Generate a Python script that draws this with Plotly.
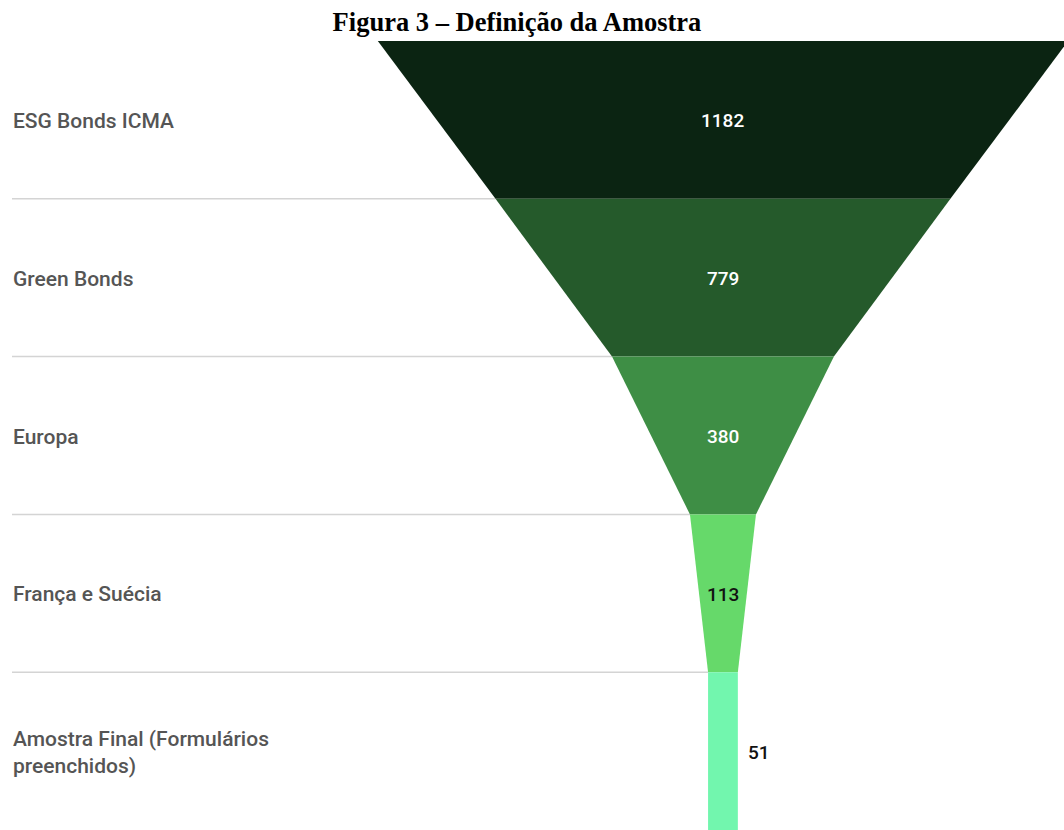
import plotly.graph_objects as go

stages = ["ESG Bonds ICMA", "Green Bonds", "Europa", "França e Suécia",
          "Amostra Final (Formulários<br>preenchidos)"]
values = [1182, 779, 380, 113, 51]
colors = ["#0b2412", "#255a2b", "#3e8e45", "#66d96a", "#72f6ae"]
text_colors = ["#ffffff", "#ffffff", "#ffffff", "#111111", "#111111"]
title = "<b>Figura 3 – Definição da Amostra</b>"

W, H = 1064, 830
X_RANGE = [-1238, 584]
Y_RANGE = [-5, 0.26]

fig = go.Figure()
n = len(values)
for i, v in enumerate(values):
    nxt = values[i + 1] if i + 1 < n else v
    top, bot = -i, -(i + 1)
    xs = [-v / 2, v / 2, nxt / 2, -nxt / 2, -v / 2]
    ys = [top, top, bot, bot, top]
    fig.add_trace(go.Scatter(x=xs, y=ys, fill="toself", fillcolor=colors[i],
                             mode="lines", line=dict(width=0, color=colors[i]),
                             hoverinfo="skip", showlegend=False))

# separator lines
px_per_unit = W / (X_RANGE[1] - X_RANGE[0])
x_left = X_RANGE[0] + 12 / px_per_unit
for i in range(1, n):
    fig.add_shape(type="line", xref="x", yref="y", x0=x_left, x1=-values[i] / 2,
                  y0=-i, y1=-i, line=dict(color="#d4d4d4", width=1.5), layer="below")

# labels
for i, s in enumerate(stages):
    fig.add_annotation(xref="paper", yref="y", x=11 / W, y=-(i + 0.5), text=s,
                       showarrow=False, xanchor="left", yanchor="middle", align="left",
                       yshift=-1,
                       font=dict(family="Roboto", size=21, weight=500, color="#555555"))
    if i < n - 1:
        fig.add_annotation(xref="x", yref="y", x=0, y=-(i + 0.5), text=str(values[i]),
                           showarrow=False, xanchor="center", yanchor="middle",
                           yshift=-1,
                           font=dict(family="Roboto", size=19, weight=500, color=text_colors[i]))
    else:
        fig.add_annotation(xref="x", yref="y", x=values[i] / 2, y=-(i + 0.5),
                           text=str(values[i]), showarrow=False, xanchor="left",
                           yanchor="middle", xshift=8, yshift=-1,
                           font=dict(family="Roboto", size=19, weight=500, color=text_colors[i]))

fig.update_layout(
    width=W, height=H,
    margin=dict(l=0, r=0, t=0, b=0),
    paper_bgcolor="white", plot_bgcolor="white",
    title=dict(text=title, x=517 / W, xanchor="center", y=1 - 22 / H, yanchor="middle",
               xref="paper", yref="container",
               font=dict(family="Liberation Serif", size=26.5, color="#000000")),
    xaxis=dict(range=X_RANGE, visible=False, fixedrange=True),
    yaxis=dict(range=Y_RANGE, visible=False, fixedrange=True),
)

fig.write_html("out.html")
